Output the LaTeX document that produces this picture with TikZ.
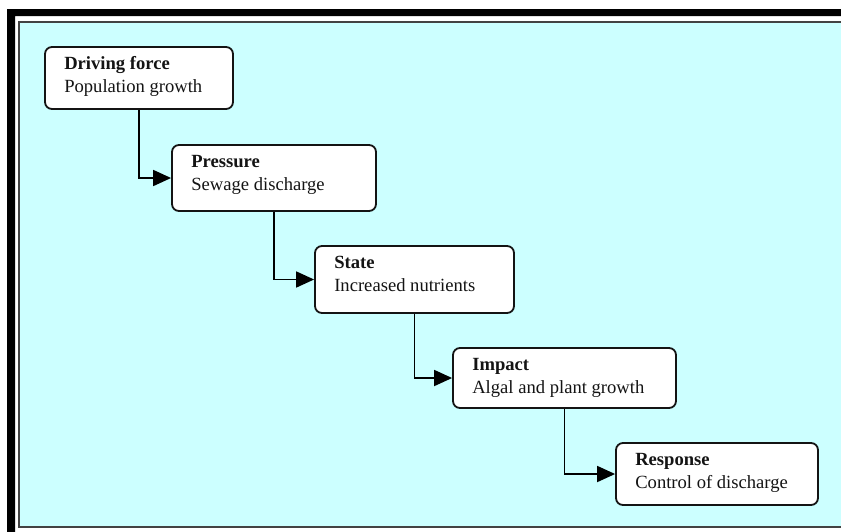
\documentclass[tikz,border=0pt]{standalone}
\usepackage{fontspec}
\setmainfont{Liberation Serif}
\usetikzlibrary{arrows.meta}
\definecolor{panelcyan}{RGB}{204,255,255}
\definecolor{inkdark}{RGB}{20,20,20}
\tikzset{
  stage/.style={draw=inkdark, line width=1.8pt, rounded corners=7pt, fill=white,
    inner sep=0pt, minimum width=#1},
  stagetext/.style={anchor=base west, inner sep=0pt, align=left, text=inkdark,
    font=\fontsize{18.6pt}{22.5pt}\selectfont},
  link/.style={draw=black, line width=1.8pt, -{Triangle[length=18pt,width=16pt]}}
}
\begin{document}
\begin{tikzpicture}[x=1pt,y=-1pt]
\useasboundingbox (0,0) rectangle (841,531);
% panel: thin inner frame with cyan fill, thick outer frame
\fill[panelcyan] (19,22) rectangle (845,527);
\draw[inkdark!80, line width=1.8pt] (845,22) -- (19,22) -- (19,527) -- (845,527);
\fill[black] (7,535) -- (7,9) -- (845,9) -- (845,16) -- (15,16) -- (15,535) -- cycle;

% stages
\node[stage=188pt, minimum height=62pt] (df) at (139,78) {};
\node[stage=204pt, minimum height=66pt] (pr) at (274,178) {};
\node[stage=199pt, minimum height=67pt] (st) at (414.5,279.5) {};
\node[stage=223pt, minimum height=60pt] (im) at (564.5,378) {};
\node[stage=202pt, minimum height=62pt] (re) at (717,474) {};

% labels: the base anchor sits on the second line's baseline
\node[stagetext] (dft) at ([shift={(20,46)}]df.north west) {\textbf{Driving force}\\Population growth};
\node[stagetext] (prt) at ([shift={(20,46)}]pr.north west) {\textbf{Pressure}\\Sewage discharge};
\node[stagetext] (stt) at ([shift={(20,46)}]st.north west) {\textbf{State}\\Increased nutrients};
\node[stagetext] (imt) at ([shift={(20,46)}]im.north west) {\textbf{Impact}\\Algal and plant growth};
\node[stagetext] (ret) at ([shift={(20,46)}]re.north west) {\textbf{Response}\\Control of discharge};

% connectors
\draw[link] (df.south) |- (pr.west);
\draw[link] (pr.south) |- (st.west);
\draw[link] (st.south) |- (im.west);
\draw[link] (im.south) |- (re.west);
\end{tikzpicture}
\end{document}
